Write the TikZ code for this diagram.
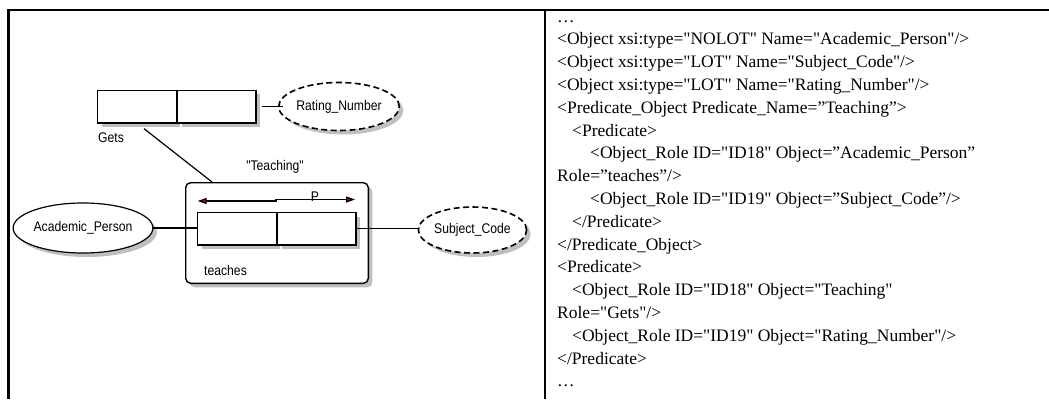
\documentclass[tikz,border=0pt]{standalone}
\usepackage{fontspec}
\setmainfont{Liberation Serif}[Ligatures=TeXOff]
\newfontfamily\diagfont{Liberation Sans}[FakeStretch=0.87,Ligatures=TeXOff]
\usetikzlibrary{positioning,shapes.geometric,shadows,arrows.meta}
\tikzset{
    shade/.style={drop shadow={shadow xshift=4pt,shadow yshift=-4pt,fill=black!25,opacity=1}},
    rolebox/.style={draw,line width=1.4pt,fill=white,minimum width=78.5pt,minimum height=32.5pt,inner sep=0pt,shade},
    objsolid/.style={ellipse,draw,line width=1.2pt,fill=white,inner sep=0pt,font=\diagfont\fontsize{14}{16}\selectfont,shade},
    objdash/.style={objsolid,dash pattern=on 6pt off 3.5pt,line width=1.6pt},
    lbl/.style={font=\diagfont\fontsize{14}{16}\selectfont,inner sep=0pt},
    link/.style={line width=1.2pt},
    frame/.style={line width=2.6pt},
    purp/.tip={Triangle[fill=violet!85!purple,length=9pt,width=6pt]}
}
\begin{document}
\begin{tikzpicture}[x=1pt,y=-1pt]
            \useasboundingbox (0,0) rectangle (1049,399);
            \draw (7,10)--(1049,10) [frame];
            \draw (8.5,10)--(8.5,399) [frame];
            \draw (545,10)--(545,399) [frame];

            \node (gets1) [rolebox] at (137,106.7) {};
            \node (gets2) [rolebox, right=0pt of gets1] {};
            \node (rn) [objdash, minimum width=97pt, minimum height=48pt] at (339,106.5) {Rating\_Number};
            \node (getslbl) [lbl, anchor=base west] at (98,142) {Gets};
            \node (teachlbl) [lbl, anchor=base] at (275,170) {"Teaching"};

            \node (teach) [draw, rounded corners=5pt, line width=1.4pt, fill=white, minimum width=182.6pt, minimum height=100.6pt, inner sep=0pt, shade] at (277,233) {};
            \node (role1) [rolebox] at (237,228.8) {};
            \node (role2) [rolebox, right=0pt of role1] {};
            \node (teacheslbl) [lbl, anchor=base west] at (204,275) {teaches};
            \node (plbl) [lbl, anchor=base] at (315,201.5) {P};
            \coordinate (pl) at (197.7,201);
            \coordinate (pr) at (355,199.5);
            \draw [purp-purp, link] (pl)--(276,201)--(276,199.5)--(pr);

            \node (ap) [objsolid, minimum width=114pt, minimum height=50pt] at (83,228) {Academic\_Person};
            \node (sc) [objdash, minimum width=91pt, minimum height=46pt] at (472.5,230) {Subject\_Code};

            \draw (ap.east)--(ap.east -| role1.west) [link];
            \draw (role2.east)--(role2.east -| sc.west) [link];
            \draw ([xshift=5pt]gets2.east)--([xshift=5pt]gets2.east -| rn.west) [link];
            \draw ([xshift=7pt,yshift=-5pt]gets1.south)--([xshift=27pt]teach.north west) [link];

            \node (xml) [anchor=north west, inner sep=0pt, align=left, font=\fontsize{17.5}{22.8}\selectfont] at (557,6) {\strut…\\
                <Object xsi:type="NOLOT" Name="Academic\_Person"/>\\
                <Object xsi:type="LOT" Name="Subject\_Code"/>\\
                <Object xsi:type="LOT" Name="Rating\_Number"/>\\
                <Predicate\_Object Predicate\_Name=”Teaching”>\\
                \hspace*{15pt}<Predicate>\\
                \hspace*{33pt}<Object\_Role ID="ID18" Object=”Academic\_Person”\\
                Role=”teaches”/>\\
                \hspace*{33pt}<Object\_Role ID="ID19" Object=”Subject\_Code”/>\\
                \hspace*{15pt}</Predicate>\\
                </Predicate\_Object>\\
                <Predicate>\\
                \hspace*{15pt}<Object\_Role ID="ID18" Object="Teaching"\\
                Role="Gets"/>\\
                \hspace*{15pt}<Object\_Role ID="ID19" Object="Rating\_Number"/>\\
                </Predicate>\\
                …};
\end{tikzpicture}
\end{document}
